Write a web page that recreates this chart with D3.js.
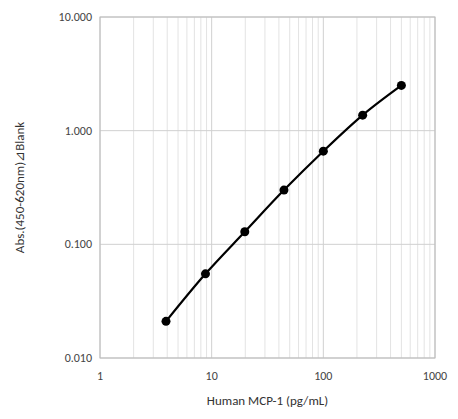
<!DOCTYPE html><html><head><script src="https://cdn.jsdelivr.net/npm/d3@7"></script>
<style>body{margin:0;background:#fff}text{font-family:Calibri,Carlito,"Liberation Sans",Arial,sans-serif}</style></head><body>
<svg id="c" width="458" height="419"></svg>
<script>
const conc=[3.9,8.8,19.8,44.4,100,225,500];
const abs=[0.021,0.055,0.129,0.30,0.66,1.37,2.5];
const yTicks=[0.01,0.1,1,10];
const xTicks=[1,10,100,1000];
const svg=d3.select("#c");
const m={l:100,r:435,t:17,b:358};
const x=d3.scaleLog().domain([1,1000]).range([m.l,m.r]);
const y=d3.scaleLog().domain([0.01,10]).range([m.b,m.t]);
const minor=[];for(let d=1;d<1000;d*=10)for(let k=2;k<=9;k++)minor.push(d*k);
svg.append("g").selectAll("line").data(minor).join("line").attr("x1",d=>x(d)).attr("x2",d=>x(d)).attr("y1",m.t).attr("y2",m.b).attr("stroke","#e3e3e3");
svg.append("g").selectAll("line").data(xTicks).join("line").attr("x1",d=>x(d)).attr("x2",d=>x(d)).attr("y1",m.t).attr("y2",m.b).attr("stroke","#d0d0d0");
svg.append("g").selectAll("line").data(yTicks).join("line").attr("y1",d=>y(d)).attr("y2",d=>y(d)).attr("x1",m.l).attr("x2",m.r).attr("stroke","#d0d0d0");
svg.append("rect").attr("x",m.l).attr("y",m.t).attr("width",m.r-m.l).attr("height",m.b-m.t).attr("fill","none").attr("stroke","#bbb");
svg.append("g").selectAll("text").data(yTicks).join("text").attr("x",m.l-8).attr("y",d=>y(d)+4).attr("text-anchor","end").attr("font-size",12).attr("fill","#444").text(d=>d3.format(".3f")(d));
svg.append("g").selectAll("text").data(xTicks).join("text").attr("x",d=>x(d)).attr("y",m.b+22).attr("text-anchor","middle").attr("font-size",12).attr("fill","#444").text(d=>d);
svg.append("text").attr("x",(m.l+m.r)/2).attr("y",405).attr("text-anchor","middle").attr("font-size",13).attr("fill","#333").text("Human MCP-1 (pg/mL)");
svg.append("text").attr("transform",`translate(24,${(m.t+m.b)/2}) rotate(-90)`).attr("text-anchor","middle").attr("font-size",13).attr("fill","#333").text("Abs.(450-620nm)⊿Blank");
const pts=conc.map((c,i)=>[c,abs[i]]);
svg.append("path").datum(pts).attr("fill","none").attr("stroke","#000").attr("stroke-width",2.2).attr("d",d3.line().x(d=>x(d[0])).y(d=>y(d[1])).curve(d3.curveMonotoneX));
svg.append("g").selectAll("circle").data(pts).join("circle").attr("cx",d=>x(d[0])).attr("cy",d=>y(d[1])).attr("r",4.5).attr("fill","#000");
</script></body></html>
